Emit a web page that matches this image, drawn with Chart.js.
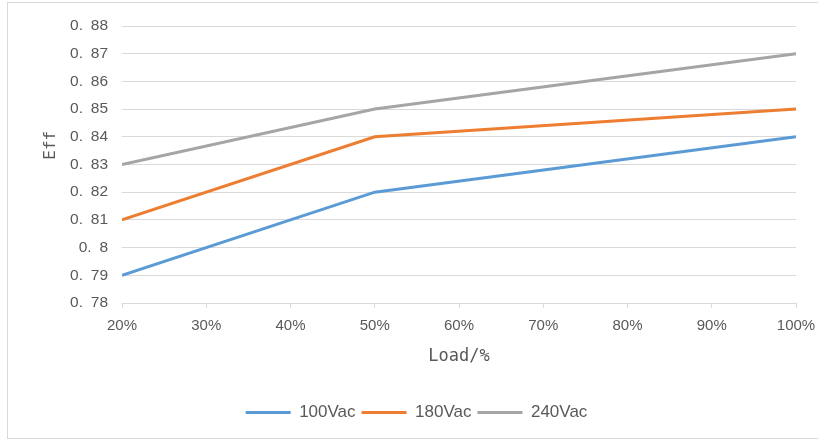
<!DOCTYPE html>
<html>
<head>
<meta charset="utf-8">
<script src="https://cdn.jsdelivr.net/npm/chart.js@4"></script>
<style>
  html, body { margin: 0; padding: 0; background: #fff; overflow: hidden; }
  #frame { position: absolute; left: 7px; top: 2px; width: 830px; height: 437px; border: 1px solid #d9d9d9; box-sizing: border-box; }
  #eff { position: absolute; left: 0; top: 0; }
</style>
</head>
<body>
<div id="frame"></div>
<canvas id="eff" width="818" height="441"></canvas>
<script>
const loads = [20, 50, 100];
const eff100 = [0.79, 0.82, 0.84];
const eff180 = [0.81, 0.84, 0.85];
const eff240 = [0.83, 0.85, 0.87];
const seriesNames = ["100Vac", "180Vac", "240Vac"];
const colors = ["#5B9BD5", "#ED7D31", "#A5A5A5"];

const textColor = "#595959";
const gridColor = "#d9d9d9";

function pts(vals) {
    return loads.map((x, i) => ({x: x, y: vals[i]}));
}

function line(i, vals) {
    return {
        label: seriesNames[i],
        data: pts(vals),
        borderColor: colors[i],
        backgroundColor: colors[i],
        borderWidth: 3,
        pointRadius: 0,
        tension: 0
    };
}

function noPad(scale) {
    scale.paddingLeft = 0;
    scale.paddingRight = 0;
    scale.paddingTop = 0;
    scale.paddingBottom = 0;
}

new Chart("eff", {
    type: "line",
    data: {
        datasets: [line(0, eff100), line(1, eff180), line(2, eff240)]
    },
    options: {
        responsive: false,
        animation: false,
        devicePixelRatio: 1,
        layout: { padding: { left: 37, right: 22, top: 26, bottom: 10 } },
        scales: {
            x: {
                type: "linear",
                min: 20,
                max: 100,
                ticks: {
                    stepSize: 10,
                    color: textColor,
                    padding: 9,
                    maxRotation: 0,
                    autoSkip: false,
                    font: { family: "Liberation Sans", size: 15 },
                    callback: v => v + "%"
                },
                grid: { drawOnChartArea: false, drawTicks: true, tickLength: 5, color: gridColor },
                border: { color: gridColor },
                title: {
                    display: true,
                    text: "Load/%",
                    color: textColor,
                    font: { family: "DejaVu Sans Mono", size: 17 },
                    padding: { top: 0, bottom: 31 }
                },
                afterFit: s => { noPad(s); s.height = 95; }
            },
            y: {
                min: 0.78,
                max: 0.88,
                ticks: {
                    stepSize: 0.01,
                    color: textColor,
                    padding: 14,
                    autoSkip: false,
                    font: { family: "Liberation Sans", size: 15.5 },
                    callback: v => (Math.round(v * 100) / 100).toString().replace(".", ".\u2002")
                },
                grid: { color: gridColor, drawTicks: false },
                border: { display: false },
                title: {
                    display: true,
                    text: "    Eff",
                    color: textColor,
                    font: { family: "DejaVu Sans Mono", size: 16 },
                    padding: { top: 4, bottom: 0 }
                },
                afterFit: s => { noPad(s); s.width = 85; }
            }
        },
        plugins: {
            legend: {
                position: "bottom",
                labels: {
                    color: textColor,
                    font: { family: "Liberation Sans", size: 17 },
                    boxWidth: 45,
                    boxHeight: 0,
                    padding: 6
                }
            },
            tooltip: { enabled: false }
        }
    }
});
</script>
</body>
</html>
